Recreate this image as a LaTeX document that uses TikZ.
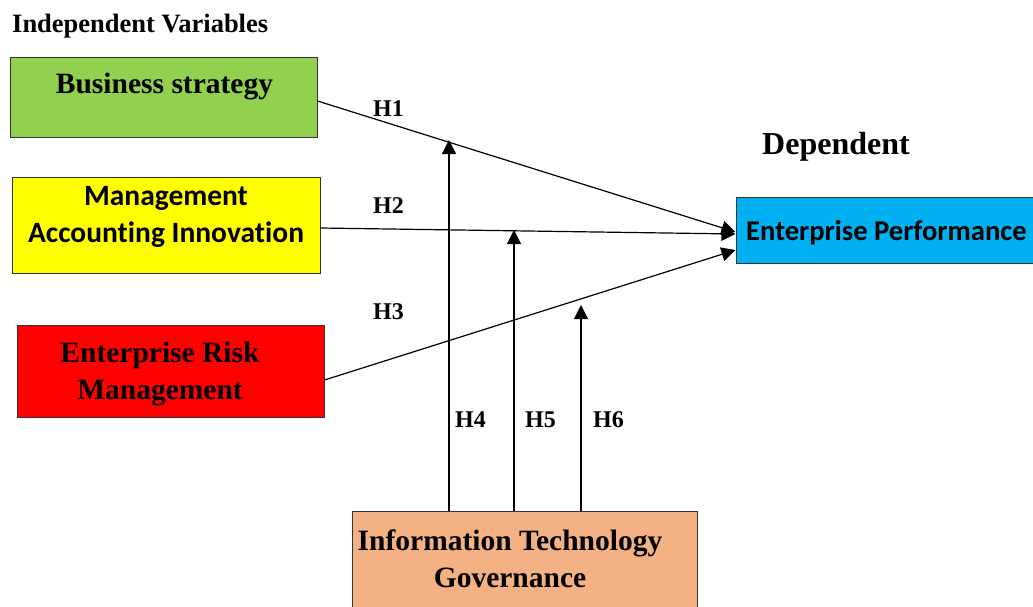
\documentclass[tikz,border=0pt]{standalone}
\usepackage{fontspec}
\setmainfont{Liberation Serif}
\newfontfamily\calfont[Ligatures=NoCommon]{Carlito}
\usetikzlibrary{arrows.meta,calc}
\definecolor{bsgreen}{HTML}{92D050}
\definecolor{maiyellow}{HTML}{FFFF00}
\definecolor{ermred}{HTML}{FF0000}
\definecolor{epblue}{HTML}{00B0F0}
\definecolor{itgsalmon}{HTML}{F4B183}
\begin{document}
\begin{tikzpicture}[x=1pt,y=-1pt,
  boxnode/.style={draw=black!80,line width=1pt,rectangle,inner sep=0pt},
  serifbig/.style={font=\fontsize{29.5}{37}\selectfont\bfseries,align=center,inner sep=0pt},
  calbig/.style={font=\calfont\fontsize{29.5}{37}\selectfont\bfseries,align=center,inner sep=0pt},
  hlabel/.style={font=\fontsize{24}{24}\selectfont\bfseries,inner sep=0pt,anchor=base west},
  arr/.style={line width=1.2pt,-{Triangle[length=14pt,width=14pt]}}]
\useasboundingbox (0,0) rectangle (1033,606);
% boxes
\node[boxnode,fill=bsgreen,minimum width=307pt,minimum height=80pt] (bs) at (163.5,97) {};
\node[boxnode,fill=maiyellow,minimum width=308pt,minimum height=96pt] (mai) at (166,225) {};
\node[boxnode,fill=ermred,minimum width=307pt,minimum height=92pt] (erm) at (170.5,371) {};
\node[boxnode,fill=epblue,minimum width=310pt,minimum height=66pt] (ep) at (891,230) {};
\node[boxnode,fill=itgsalmon,minimum width=345pt,minimum height=110pt] (itg) at (524.5,566) {};
% texts
\node[font=\fontsize{26.5}{26.5}\selectfont\bfseries,inner sep=0pt,anchor=base west] (iv) at (12,32) {Independent Variables};
\node[font=\fontsize{32}{32}\selectfont\bfseries,inner sep=0pt,anchor=base west] (dep) at (762,154) {Dependent};
\node[serifbig,anchor=base] (bst) at (164.5,93) {Business strategy};
\node[calbig] (mait) at (166,217) {Management\\Accounting Innovation};
\node[serifbig] (ermt) at (160,374) {Enterprise Risk\\Management};
\node[calbig,font=\calfont\fontsize{28.6}{30}\selectfont\bfseries,anchor=base west] (ept) at (746,240) {Enterprise Performance};
\node[serifbig] (itgt) at (510,559) {Information Technology\\Governance};
% free ends of moderating arrows
\coordinate (t4) at (449,140);
\coordinate (t5) at (514,230);
\coordinate (t6) at (581,305);
% arrows
\draw[arr] ([yshift=-4pt]bs.east) -- ([yshift=-2pt]ep.west);
\draw[arr] ([yshift=-3pt]mai.east) -- ([yshift=-4pt]ep.west);
\draw[arr] ([yshift=-9pt]erm.east) -- ([yshift=-20pt]ep.west);
\draw[arr] (itg.north -| t4) -- (t4);
\draw[arr] (itg.north -| t5) -- (t5);
\draw[arr] (itg.north -| t6) -- (t6);
% labels
\node[hlabel] (h1) at (373,116) {H1};
\node[hlabel] (h2) at (373,213) {H2};
\node[hlabel] (h3) at (373,319) {H3};
\node[hlabel] (h4) at (455,427) {H4};
\node[hlabel] (h5) at (525,427) {H5};
\node[hlabel] (h6) at (593,427) {H6};
\end{tikzpicture}
\end{document}
